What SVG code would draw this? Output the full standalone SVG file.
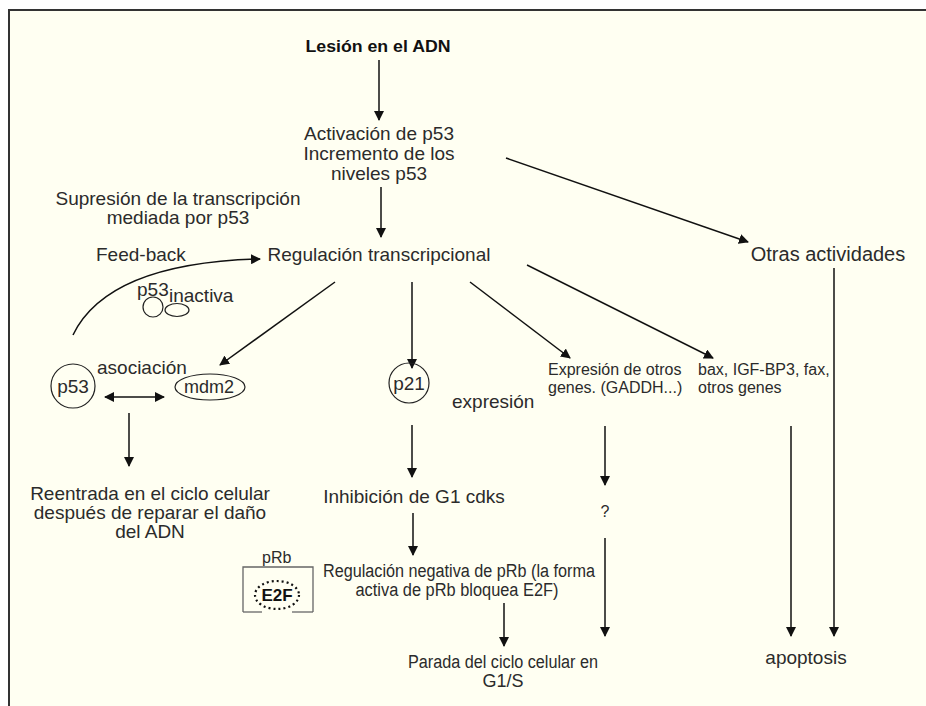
<svg xmlns="http://www.w3.org/2000/svg" width="926" height="706" viewBox="0 0 926 706">
<defs>
<marker id="ah" markerWidth="10" markerHeight="10" refX="9" refY="5" orient="auto" markerUnits="userSpaceOnUse">
<path d="M0,0 L10,5 L0,10 Z" fill="#111"/>
</marker>
<marker id="ahs" markerWidth="10" markerHeight="10" refX="1" refY="5" orient="auto" markerUnits="userSpaceOnUse">
<path d="M10,0 L0,5 L10,10 Z" fill="#111"/>
</marker>
<style>
text{font-family:"Liberation Sans",Arial,sans-serif;font-size:19px;fill:#2b2b2b}
.c{text-anchor:middle}
.s{font-size:16px}
.b{font-weight:bold;font-size:17px;fill:#111}
.ln{stroke:#111;stroke-width:1.5;fill:none}
.ar{stroke:#111;stroke-width:1.5;fill:none;marker-end:url(#ah)}
.sh{stroke:#222;stroke-width:1.2;fill:none}
</style>
</defs>
<rect x="0" y="0" width="926" height="706" fill="#ffffff"/>
<rect x="9" y="10" width="930" height="710" fill="#fffff2" stroke="#333" stroke-width="2"/>

<g id="connectors">
<line class="ar" x1="379" y1="60" x2="379" y2="120"/>
<line class="ar" x1="381" y1="187" x2="381" y2="237"/>
<path class="ar" d="M73,335 Q108,263 260,259"/>
<line class="ar" x1="506" y1="158" x2="748" y2="242"/>
<line class="ar" x1="335" y1="282" x2="220" y2="365"/>
<line class="ar" x1="412" y1="282" x2="412" y2="368"/>
<line class="ar" x1="470" y1="282" x2="570" y2="358"/>
<line class="ar" x1="527" y1="265" x2="713" y2="358"/>
<line class="ar" x1="834" y1="268" x2="834" y2="636"/>
<line class="ln" x1="105" y1="397" x2="164" y2="397" style="marker-end:url(#ah);marker-start:url(#ahs)"/>
<line class="ar" x1="129" y1="413" x2="129" y2="466"/>
<line class="ar" x1="412" y1="425" x2="412" y2="477"/>
<line class="ar" x1="605" y1="426" x2="605" y2="485"/>
<line class="ar" x1="605" y1="538" x2="605" y2="636"/>
<line class="ar" x1="413" y1="513" x2="413" y2="555"/>
<line class="ar" x1="504" y1="603" x2="504" y2="646"/>
<line class="ar" x1="791" y1="426" x2="791" y2="636"/>
</g>

<g id="lesion"><text class="c b" x="378" y="52" textLength="145" lengthAdjust="spacingAndGlyphs">Lesión en el ADN</text></g>
<g id="activacion">
<text class="c" x="379" y="140">Activación de p53</text>
<text class="c" x="379" y="160">Incremento de los</text>
<text class="c" x="379" y="180">niveles p53</text>
</g>
<g id="supresion">
<text class="c" x="178" y="205">Supresión de la transcripción</text>
<text class="c" x="178" y="224">mediada por p53</text>
</g>
<g id="regulacion"><text class="c" x="379" y="261">Regulación transcripcional</text></g>
<g id="feedback"><text x="96" y="261">Feed-back</text></g>
<g id="p53inactiva">
<text x="137" y="296">p53</text>
<text x="169" y="302">inactiva</text>
<circle class="sh" cx="153" cy="307" r="10"/>
<ellipse class="sh" cx="177" cy="310" rx="12" ry="6.5"/>
</g>
<g id="otras"><text class="c" x="828" y="261" style="font-size:20px">Otras actividades</text></g>
<g id="p53">
<circle class="sh" cx="73" cy="386" r="22"/>
<text class="c" x="73" y="393">p53</text>
</g>
<g id="asociacion"><text x="97" y="374">asociación</text></g>
<g id="mdm2">
<ellipse class="sh" cx="210" cy="387" rx="35" ry="13"/>
<text class="c" x="209" y="393" style="font-size:18px">mdm2</text>
</g>
<g id="reentrada">
<text class="c" x="150" y="500">Reentrada en el ciclo celular</text>
<text class="c" x="150" y="519">después de reparar el daño</text>
<text class="c" x="150" y="538">del ADN</text>
</g>
<g id="p21">
<circle class="sh" cx="409" cy="383" r="20"/>
<text class="c" x="409" y="390">p21</text>
</g>
<g id="expresion"><text x="452" y="408">expresión</text></g>
<g id="otrosgenes">
<text class="s" x="548" y="375">Expresión de otros</text>
<text class="s" x="548" y="393">genes. (GADDH...)</text>
</g>
<g id="bax">
<text class="s" x="698" y="375">bax, IGF-BP3, fax,</text>
<text class="s" x="698" y="393">otros genes</text>
</g>
<g id="inhibicion"><text class="c" x="414" y="503">Inhibición de G1 cdks</text></g>
<g id="interrogacion"><text class="c s" x="605" y="517">?</text></g>
<g id="pRb">
<path d="M243,612 L243,567 L313,567 L313,612" fill="none" stroke="#666" stroke-width="1.3"/>
<line x1="243" y1="612" x2="262" y2="612" stroke="#666" stroke-width="1.3"/>
<line x1="292" y1="612" x2="313" y2="612" stroke="#666" stroke-width="1.3"/>
<text x="262" y="563" class="s">pRb</text>
<ellipse cx="277" cy="595" rx="22" ry="14" fill="#fffff2" stroke="#111" stroke-width="2.2" stroke-dasharray="2 3"/>
<text class="c" x="277" y="601" style="font-weight:bold;font-size:17px;fill:#111">E2F</text>
</g>
<g id="regneg">
<text class="c" x="459" y="577" style="font-size:18px" textLength="272" lengthAdjust="spacingAndGlyphs">Regulación negativa de pRb (la forma</text>
<text class="c" x="457" y="596" style="font-size:18px" textLength="203" lengthAdjust="spacingAndGlyphs">activa de pRb bloquea E2F)</text>
</g>
<g id="parada">
<text class="c" x="503" y="668" style="font-size:18px" textLength="190" lengthAdjust="spacingAndGlyphs">Parada del ciclo celular en</text>
<text class="c" x="503" y="687" style="font-size:18px">G1/S</text>
</g>
<g id="apoptosis"><text class="c" x="806" y="664">apoptosis</text></g>
</svg>
